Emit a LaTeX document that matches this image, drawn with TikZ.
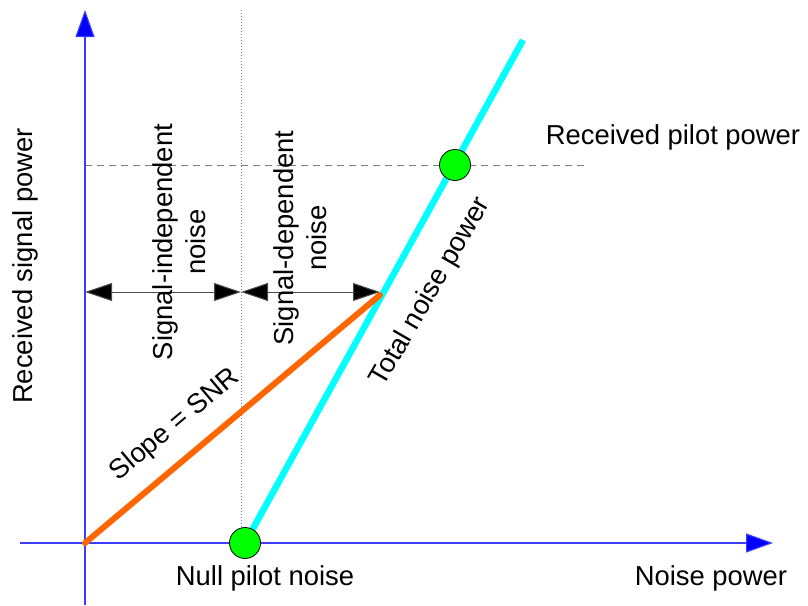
\documentclass[tikz,border=0pt]{standalone}
\usepackage{fontspec}
\setmainfont{Liberation Sans}
\usetikzlibrary{arrows.meta}
\definecolor{axisblue}{RGB}{60,60,255}
\definecolor{slopeorange}{RGB}{255,102,0}
\definecolor{dotgreen}{RGB}{0,255,0}
\definecolor{linecyan}{RGB}{0,255,255}
\begin{document}
\begin{tikzpicture}[x=1pt,y=-1pt,
  lbl/.style={font=\fontsize{27.4}{32.5}\selectfont, inner sep=0pt, align=center},
  axisline/.style={draw=axisblue, line width=1.2pt, -{Triangle[length=27pt,width=19pt,fill=blue]}},
  dim/.style={draw=black!70, line width=1pt, {Triangle[length=27pt,width=18pt,fill=black]}-{Triangle[length=27pt,width=18pt,fill=black]}},
  dot/.style={circle, draw=black, line width=0.8pt, fill=dotgreen, minimum size=31pt, inner sep=0pt}]
\useasboundingbox (0,0) rectangle (808,605);
% coordinates
\coordinate (o) at (85,543);
\coordinate (ybot) at (85,605);
\coordinate (ytop) at (85,10);
\coordinate (xleft) at (20,543);
\coordinate (xright) at (773,543);
\coordinate (vtop) at (241,10);
\coordinate (vbot) at (241,543);
\coordinate (hl) at (85,165);
\coordinate (hr) at (585,165);
\coordinate (ml) at (85,292);
\coordinate (mm) at (241,292);
\coordinate (mr) at (380,292);
\coordinate (corner) at (380,295);
\coordinate (ctop) at (523,40);
% guides
\draw[gray, dotted, line width=1pt] (vtop) -- (vbot);
\draw[gray, line width=1pt, dash pattern=on 7pt off 5pt] (hl) -- (hr);
% axes
\draw[axisline] (ybot) -- (ytop);
\draw[axisline] (xleft) -- (xright);
% lines
\coordinate (cbot) at (245,543);
\draw[linecyan, line width=6.5pt] (cbot) -- (ctop);
\draw[slopeorange, line width=6pt, line cap=round] (o) -- (corner);
\node[dot] (n1) at (cbot) {};
\node[dot] (n2) at (455,165) {};
% dimension arrows
\draw[dim] (ml) -- (mm);
\draw[dim] (mm) -- (mr);
% labels
\node[lbl, rotate=90] (rsp) at (25,266) {Received signal power};
\node[lbl, rotate=90] (sin) at (179,242) {Signal-independent\\noise};
\node[lbl, rotate=90] (sdn) at (300,238) {Signal-dependent\\noise};
\node[lbl, rotate=60] (tnp) at (431,292) {Total noise power};
\node[lbl, rotate=40] (snr) at (175,425) {Slope = SNR};
\node[lbl] (rpp) at (673,137) {Received pilot power};
\node[lbl] (npn) at (265,578) {Null pilot noise};
\node[lbl] (np) at (711,578) {Noise power};
\end{tikzpicture}
\end{document}
